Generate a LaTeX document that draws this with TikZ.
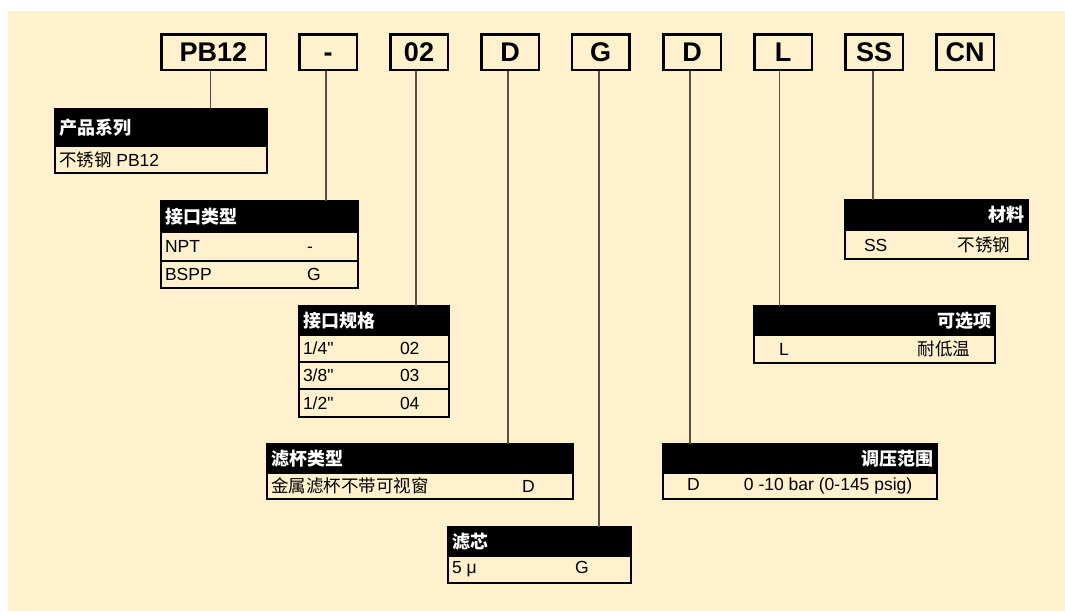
\documentclass[tikz,border=0pt]{standalone}
\usepackage{fontspec}
\setmainfont{Liberation Sans}[Ligatures=TeXOff]
\newfontfamily\cjk{Noto Sans CJK SC}
\usetikzlibrary{positioning}
\definecolor{cream}{RGB}{255,241,205}
\definecolor{leadgray}{RGB}{85,80,70}
\tikzset{
  codebox/.style={rectangle, draw, line width=2.5pt, minimum height=35.5pt, minimum width=57.5pt,
    inner sep=0pt, text height=19.5pt, text depth=0pt, font=\fontsize{27}{27}\selectfont\bfseries},
  head/.style={rectangle, draw, fill=black, text=white, line width=1.2pt, inner xsep=4pt, inner ysep=0pt,
    outer sep=0pt, anchor=north west, font=\fontsize{18}{18}\selectfont\bfseries},
  cell/.style={rectangle, draw, line width=1.2pt, inner xsep=4pt, inner ysep=0pt, outer sep=0pt,
    below=0pt of #1, font=\fontsize{17.5}{17.5}\selectfont},
  leader/.style={draw=leadgray, line width=1.5pt}
}
\newcommand\spread[2]{\hbox to #1pt{#2}}
\begin{document}
\begin{tikzpicture}[x=1pt, y=-1pt]
    \useasboundingbox (0,0) rectangle (1065,611);
    \fill[cream] (8,11) rectangle (1065,611);

    % Code blocks
    \node [codebox, minimum width=104.5pt] (pb) at (213.5,52) {PB12};
    \node [codebox] (dash)  at (328,52) {-};
    \node [codebox] (port)  at (419,52) {02};
    \node [codebox] (bowl)  at (510,52) {D};
    \node [codebox] (elem)  at (600.5,52) {G};
    \node [codebox] (press) at (692,52) {D};
    \node [codebox] (opt)   at (783,52) {L};
    \node [codebox] (mat)   at (874,52) {SS};
    \node [codebox] (cn)    at (965,52) {CN};

    % Tables
    \node [head, minimum height=37pt] (famH) at (55,109) {\spread{204}{\cjk 产品系列\hfil}};
    \node [cell=famH, minimum height=27pt] (famA) {\spread{204}{{\cjk 不锈钢} PB12\hfil}};

    \node [head, minimum height=31pt] (conH) at (161,201) {\spread{189}{\cjk 接口类型\hfil}};
    \node [cell=conH, minimum height=29pt] (conA) {\spread{189}{\makebox[142pt][l]{NPT}-\hfil}};
    \node [cell=conA, minimum height=27pt] (conB) {\spread{189}{\makebox[142pt][l]{BSPP}G\hfil}};

    \node [head, minimum height=29pt] (sizeH) at (299,306) {\spread{142}{\cjk 接口规格\hfil}};
    \node [cell=sizeH, minimum height=27pt] (sizeA) {\spread{142}{\makebox[97pt][l]{1/4"}02\hfil}};
    \node [cell=sizeA, minimum height=27pt] (sizeB) {\spread{142}{\makebox[97pt][l]{3/8"}03\hfil}};
    \node [cell=sizeB, minimum height=28pt] (sizeC) {\spread{142}{\makebox[97pt][l]{1/2"}04\hfil}};

    \node [head, minimum height=29pt] (bowlH) at (267,444) {\spread{298}{\cjk 滤杯类型\hfil}};
    \node [cell=bowlH, minimum height=26pt] (bowlA) {\spread{298}{\makebox[251pt][l]{\cjk 金属滤杯不带可视窗}D\hfil}};

    \node [head, minimum height=29pt] (elemH) at (448,527) {\spread{175}{\cjk 滤芯\hfil}};
    \node [cell=elemH, minimum height=27pt] (elemA) {\spread{175}{\makebox[123pt][l]{5 μ}G\hfil}};

    \node [head, minimum height=29pt] (pressH) at (663,444) {\spread{266}{\hfil\cjk 调压范围}};
    \node [cell=pressH, minimum height=26pt] (pressA) {\spread{266}{\hspace*{20pt}\makebox[57pt][l]{D}0 -10 bar (0-145 psig)\hfil}};

    \node [head, minimum height=29pt] (optH) at (754,306) {\spread{233}{\hfil\cjk 可选项}};
    \node [cell=optH, minimum height=28pt] (optA) {\spread{233}{\hspace*{21pt}L\hfil{\cjk 耐低温}\hspace*{21pt}}};

    \node [head, minimum height=30pt] (matH) at (845,200) {\spread{175}{\hfil\cjk 材料}};
    \node [cell=matH, minimum height=29pt] (matA) {\spread{175}{\hspace*{15pt}SS\hfil{\cjk 不锈钢}\hspace*{14pt}}};

    % Connections
    \draw [leader] ([xshift=-3pt]pb.south) -- ([xshift=-3pt]pb.south |- famH.north);
    \draw [leader] ([xshift=-2pt]dash.south) -- ([xshift=-2pt]dash.south |- conH.north);
    \draw [leader] ([xshift=-3pt]port.south) -- ([xshift=-3pt]port.south |- sizeH.north);
    \draw [leader] ([xshift=-2pt]bowl.south) -- ([xshift=-2pt]bowl.south |- bowlH.north);
    \draw [leader] ([xshift=-1.5pt]elem.south) -- ([xshift=-1.5pt]elem.south |- elemH.north);
    \draw [leader] ([xshift=-2pt]press.south) -- ([xshift=-2pt]press.south |- pressH.north);
    \draw [leader] ([xshift=-3.5pt]opt.south) -- ([xshift=-3.5pt]opt.south |- optH.north);
    \draw [leader] ([xshift=-1pt]mat.south) -- ([xshift=-1pt]mat.south |- matH.north);
\end{tikzpicture}
\end{document}
